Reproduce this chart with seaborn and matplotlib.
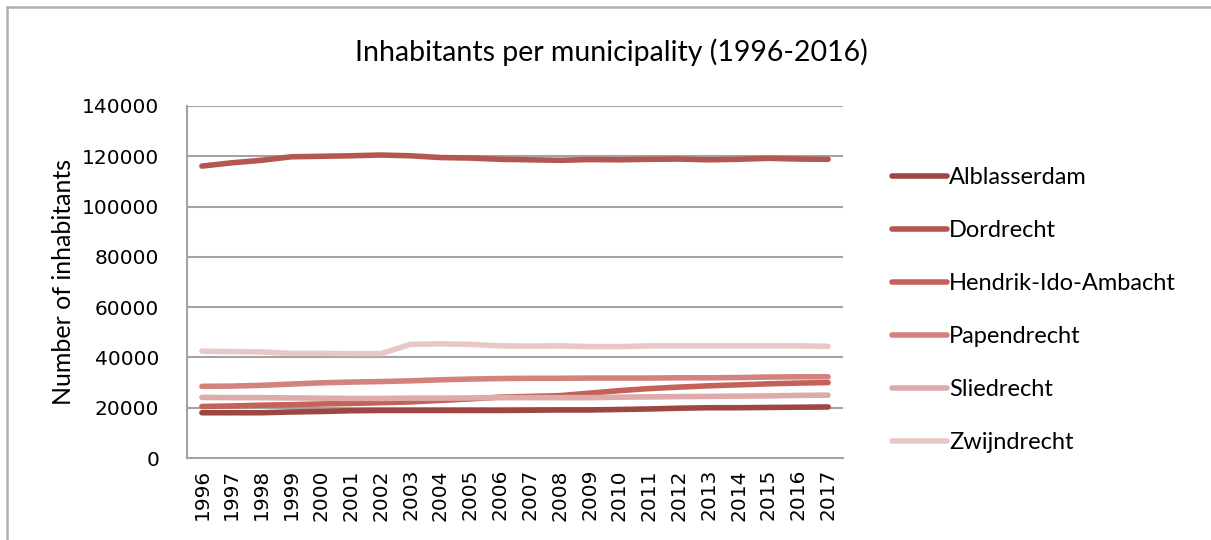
import pandas as pd
import matplotlib
matplotlib.use("Agg")
import matplotlib.pyplot as plt
import seaborn as sns
from matplotlib.ticker import MultipleLocator, FixedLocator
from matplotlib.lines import Line2D

# --------------------------
# Data
# --------------------------
years = list(range(1996, 2018))

alblasserdam = [18.0, 18.0, 18.0, 18.3, 18.5, 18.8, 18.9, 18.9, 18.9, 18.9, 18.9,
                19.0, 19.1, 19.1, 19.3, 19.5, 19.8, 20.0, 20.0, 20.1, 20.2, 20.3]
dordrecht = [116.1, 117.4, 118.4, 119.8, 120.0, 120.2, 120.5, 120.2, 119.5, 119.3, 118.8,
             118.6, 118.4, 118.7, 118.6, 118.8, 118.9, 118.6, 118.8, 119.2, 118.9, 118.8]
hendrik_ido_ambacht = [20.5, 20.7, 21.0, 21.2, 21.5, 21.7, 22.0, 22.3, 22.9, 23.5, 24.2,
                       24.5, 24.8, 25.8, 26.8, 27.6, 28.2, 28.7, 29.1, 29.5, 29.8, 30.0]
papendrecht = [28.5, 28.6, 28.9, 29.4, 29.9, 30.2, 30.4, 30.7, 31.1, 31.4, 31.6,
               31.7, 31.7, 31.8, 31.8, 31.8, 31.9, 31.9, 32.0, 32.2, 32.3, 32.3]
sliedrecht = [24.1, 24.0, 24.0, 23.9, 23.8, 23.7, 23.7, 23.8, 23.8, 23.9, 24.0,
              24.0, 24.0, 24.0, 24.2, 24.3, 24.4, 24.5, 24.6, 24.7, 24.9, 25.0]
zwijndrecht = [42.5, 42.3, 42.2, 41.6, 41.6, 41.5, 41.5, 45.2, 45.4, 45.2, 44.6,
               44.5, 44.6, 44.3, 44.3, 44.6, 44.6, 44.6, 44.6, 44.6, 44.6, 44.4]

municipalities = ["Alblasserdam", "Dordrecht", "Hendrik-Ido-Ambacht",
                  "Papendrecht", "Sliedrecht", "Zwijndrecht"]
series = [alblasserdam, dordrecht, hendrik_ido_ambacht, papendrecht, sliedrecht, zwijndrecht]
colors = ["#9e4642", "#b4574f", "#c4625a", "#d4827e", "#ddabaa", "#e7c8c7"]

rows = []
for name, vals in zip(municipalities, series):
    for i, (yr, v) in enumerate(zip(years, vals)):
        rows.append({"pos": i, "year": yr, "gemeente": name, "inwoners": v * 1000})
df = pd.DataFrame(rows)

# --------------------------
# Plot
# --------------------------
sns.set_style("white")
plt.rcParams["font.family"] = ["Lato", "DejaVu Sans"]
plt.rcParams["text.color"] = "black"
plt.rcParams["xtick.color"] = "black"
plt.rcParams["ytick.color"] = "black"
plt.rcParams["axes.labelcolor"] = "black"

fig = plt.figure(figsize=(12.11, 5.4), dpi=100)
ax = fig.add_axes([187 / 1211, 82 / 540, 656 / 1211, 352 / 540])

grid_col = "#a3a3a3"
for g in range(20000, 140001, 20000):
    ax.axhline(g, color=grid_col, lw=1.5, zorder=0)

sns.lineplot(data=df, x="pos", y="inwoners", hue="gemeente", hue_order=municipalities,
             palette=colors, linewidth=4, legend=False, ax=ax,
             solid_capstyle="round", solid_joinstyle="round")

ax.set_xlim(-0.5, len(years) - 0.5)
ax.set_ylim(0, 140000)
ax.yaxis.set_major_locator(MultipleLocator(20000))
ax.set_xticks(range(len(years)))
ax.set_xticklabels([str(y) for y in years], rotation=90)
ax.xaxis.set_minor_locator(FixedLocator([i - 0.5 for i in range(len(years) + 1)]))
ax.tick_params(axis="x", which="major", length=0, pad=8)
ax.tick_params(axis="x", which="minor", length=7, color=grid_col, width=1.5, direction="out")
ax.tick_params(axis="y", length=8, color=grid_col, width=1.5, direction="out", pad=12)
for t in ax.get_xticklabels() + ax.get_yticklabels():
    t.set_fontfamily(["DejaVu Sans"])
    t.set_fontsize(14.5)

ax.set_xlabel("")
ax.set_ylabel("Number of inhabitants", fontsize=18, labelpad=5)
fig.text(611 / 1211, 1 - 52 / 540, "Inhabitants per municipality (1996-2016)",
         fontsize=20.5, ha="center", va="center")

sns.despine(ax=ax, top=True, right=True)
for s in ["left", "bottom"]:
    ax.spines[s].set_color(grid_col)
    ax.spines[s].set_linewidth(1.5)

handles = [Line2D([0], [0], color=c, lw=4, solid_capstyle="round") for c in colors]
fig.legend(handles, municipalities, loc="upper left", bbox_to_anchor=(883 / 1211, 1 - 158 / 540),
           frameon=False, fontsize=17, labelspacing=1.35, handlelength=2.3,
           handletextpad=0.1, borderaxespad=0)

# thin frame on top and left edge of the picture
fig.add_artist(Line2D([7 / 1211, 1], [1 - 7 / 540] * 2, transform=fig.transFigure,
                      color="#b0b0b0", lw=1.8))
fig.add_artist(Line2D([7 / 1211] * 2, [0, 1 - 7 / 540], transform=fig.transFigure,
                      color="#b0b0b0", lw=1.8))

fig.savefig("out.png", dpi=100)
